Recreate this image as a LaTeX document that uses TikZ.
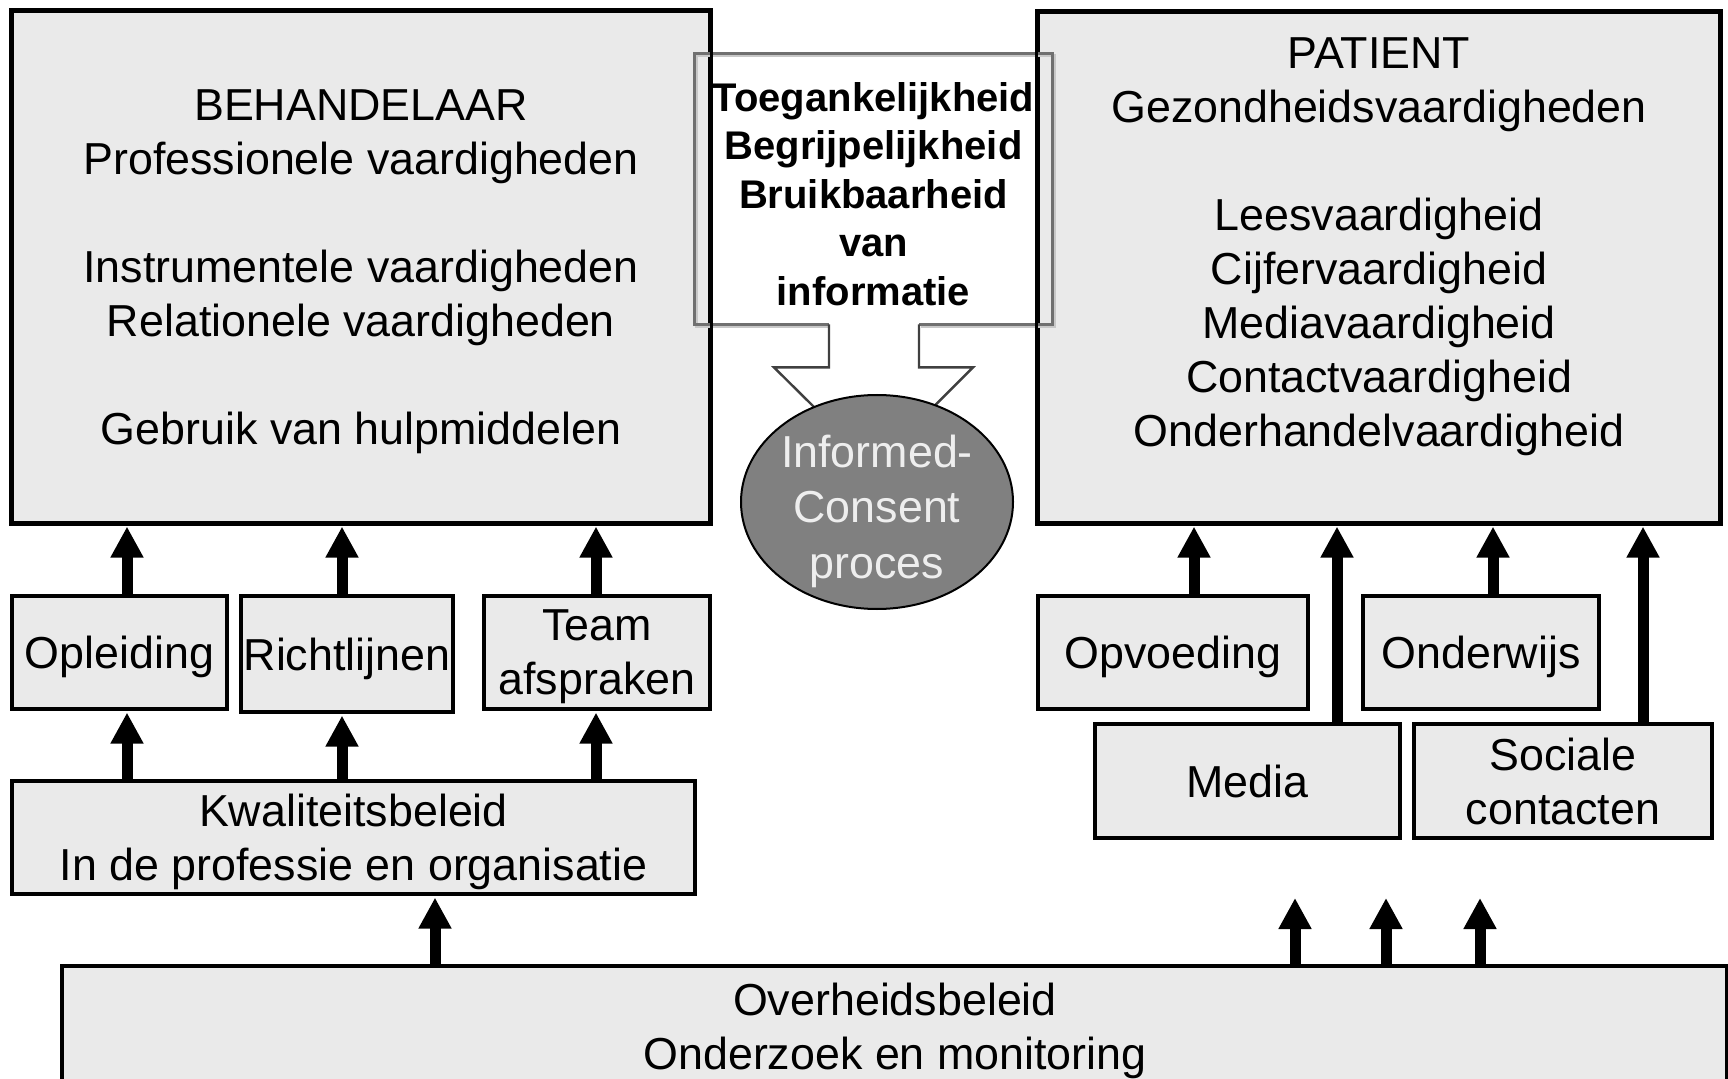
\documentclass[tikz,border=0pt]{standalone}
\usepackage{fontspec}
\setmainfont{Liberation Sans}
\usetikzlibrary{arrows.meta,calc,shapes.geometric}
\definecolor{boxfill}{HTML}{EAEAEA}
\definecolor{ellfill}{HTML}{808080}
\definecolor{elltext}{HTML}{EEEEEE}
\definecolor{callline}{HTML}{707070}
\definecolor{callshadow}{HTML}{C8C8C8}
\newcommand\mainfnt{\fontsize{22.4}{27}\selectfont}
\newcommand\callfnt{\bfseries\fontsize{20}{24.25}\selectfont}
\newcommand\ellfnt{\fontsize{22.4}{27.8}\selectfont}
\begin{document}
\begin{tikzpicture}[x=0.5pt,y=-0.5pt,
  box/.style={draw=black,line width=1.6pt,fill=boxfill,inner sep=0pt,align=center,text depth=0pt,font=\mainfnt},
  txt/.style={inner sep=0pt,align=center,text depth=0pt,font=\mainfnt},
  arr/.style={line width=5.5pt,shorten >=1pt,-{Triangle[width=15.5pt,length=15.5pt]}},
  callbord/.style={draw=callline,line width=1.4pt},
  ptr/.style={draw=black!75,line width=1.2pt,fill=white}]
\useasboundingbox (0,0) rectangle (1728,1079);
\clip (0,0) rectangle (1728,1079);
\fill[white] (0,0) rectangle (1728,1079);

% callout background
\node[fill=white,draw=none,inner sep=0pt,minimum width=178.5pt,minimum height=135pt] (call) at (873.5,189) {};

% big boxes
\node[box,minimum width=349pt,minimum height=256pt] (beh) at (361,267)
  {BEHANDELAAR\\Professionele vaardigheden\\[27pt]Instrumentele vaardigheden\\Relationele vaardigheden\\[27pt]Gebruik van hulpmiddelen};
\node[box,minimum width=341pt,minimum height=255.5pt] (pat) at (1379,267.5) {};

% callout border (shadow + line)
\draw[draw=callshadow,line width=1.4pt,transform canvas={shift={(1pt,-1pt)}}]
  ($(call.south)+(-44.5,0)$) -| (call.north west) -- (call.north east) |- ($(call.south)+(45.5,0)$);
\draw[callbord]
  ($(call.south)+(-44.5,0)$) -| (call.north west) -- (call.north east) |- ($(call.south)+(45.5,0)$);

% big box borders on top
\draw[line width=1.6pt] (beh.south west) rectangle (beh.north east);
\draw[line width=1.6pt] (pat.south west) rectangle (pat.north east);

% callout pointer
\draw[ptr] ($(call.south)+(-44.5,0)$) -- ++(0,43) -- ++(-55,0) -- ($(call.south)+(0.5,142)$)
  -- ($(call.south)+(99.5,43)$) -- ++(-54,0) -- ($(call.south)+(45.5,0)$);

% ellipse
\node[ellipse,draw=black,line width=1pt,fill=ellfill,inner sep=0pt,minimum width=136pt,minimum height=107pt] (ell) at (877,502) {};

% small boxes
\node[box,minimum width=107.5pt,minimum height=56.5pt] (opl) at (119.5,652.5) {Opleiding};
\node[box,minimum width=106pt,minimum height=58pt] (richt) at (347,654) {Richtlijnen};
\node[box,minimum width=113pt,minimum height=56.5pt] (team) at (597,652.5) {Team\\afspraken};
\node[box,minimum width=341.5pt,minimum height=56.5pt] (kwal) at (353.5,837.5) {Kwaliteitsbeleid\\In de professie en organisatie};
\node[box,minimum width=135pt,minimum height=56.5pt] (opv) at (1173,652.5) {Opvoeding};
\node[box,minimum width=118pt,minimum height=56.5pt] (ond) at (1481,652.5) {Onderwijs};
\node[box,minimum width=152.5pt,minimum height=57pt] (media) at (1247.5,781) {Media};
\node[box,minimum width=149pt,minimum height=57pt] (soc) at (1563,781) {Sociale\\contacten};
\node[box,minimum width=832.5pt,minimum height=87pt] (over) at (894.5,1053) {};

% texts
\node[txt] (pattxt) at (1379,242.5)
  {PATIENT\\Gezondheidsvaardigheden\\[27pt]Leesvaardigheid\\Cijfervaardigheid\\Mediavaardigheid\\Contactvaardigheid\\Onderhandelvaardigheid};
\node[txt,font=\callfnt] (calltxt) at (873.5,194)
  {Toegankelijkheid\\Begrijpelijkheid\\Bruikbaarheid\\van\\informatie};
\node[txt,font=\ellfnt,text=elltext] (elltxt) at (877,506.5) {Informed-\\Consent\\proces};
\node[txt] (overtxt) at (895,1026) {Overheidsbeleid\\Onderzoek en monitoring};

% x positions of arrows
\coordinate (a1) at (127,0);
\coordinate (a2) at (342,0);
\coordinate (a3) at (596,0);
\coordinate (a4) at (435,0);
\coordinate (b1) at (1194,0);
\coordinate (b2) at (1337,0);
\coordinate (b3) at (1493,0);
\coordinate (b4) at (1643,0);
\coordinate (t1) at (1295,896);
\coordinate (t2) at (1386,896);
\coordinate (t3) at (1480,896);

% arrows
\draw[arr] (opl.north -| a1) -- (beh.south -| a1);
\draw[arr] (richt.north -| a2) -- (beh.south -| a2);
\draw[arr] (team.north -| a3) -- (beh.south -| a3);
\draw[arr] (kwal.north -| a1) -- (opl.south -| a1);
\draw[arr] (kwal.north -| a2) -- (richt.south -| a2);
\draw[arr] (kwal.north -| a3) -- (team.south -| a3);
\draw[arr] (over.north -| a4) -- (kwal.south -| a4);
\draw[arr] (opv.north -| b1) -- (pat.south -| b1);
\draw[arr] (media.north -| b2) -- (pat.south -| b2);
\draw[arr] (ond.north -| b3) -- (pat.south -| b3);
\draw[arr] (soc.north -| b4) -- (pat.south -| b4);
\draw[arr] (over.north -| t1) -- (t1);
\draw[arr] (over.north -| t2) -- (t2);
\draw[arr] (over.north -| t3) -- (t3);
\end{tikzpicture}
\end{document}
